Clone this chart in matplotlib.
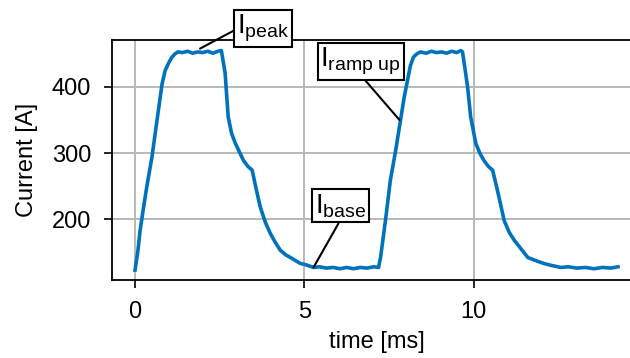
import matplotlib
matplotlib.use("Agg")
import matplotlib.pyplot as plt

plt.rcParams["font.family"] = ["Liberation Sans", "DejaVu Sans"]
plt.rcParams["mathtext.fontset"] = "custom"
plt.rcParams["mathtext.rm"] = "Liberation Sans"
plt.rcParams["mathtext.it"] = "Liberation Sans"

# measured current waveform, two pulses
time_ms = [0.0, 0.08, 0.15, 0.24, 0.35, 0.5, 0.65, 0.8, 0.89, 1.0, 1.09, 1.18, 1.27,
           1.4, 1.55, 1.7, 1.85, 2.0, 2.15, 2.3, 2.45, 2.55, 2.66, 2.75, 2.85, 2.96,
           3.08, 3.2, 3.33, 3.46, 3.58, 3.7, 3.85, 3.99, 4.14, 4.29, 4.45, 4.59, 4.75,
           4.88, 5.05, 5.27, 5.45, 5.65, 5.85, 6.05, 6.25, 6.45, 6.65, 6.85, 7.05,
           7.19, 7.25, 7.4, 7.54, 7.7, 7.84, 7.95, 8.05, 8.13, 8.22, 8.32, 8.43, 8.6,
           8.75, 8.9, 9.05, 9.2, 9.35, 9.5, 9.62, 9.67, 9.75, 9.82, 9.91, 10.06,
           10.18, 10.3, 10.43, 10.56, 10.7, 10.9, 11.05, 11.2, 11.4, 11.6, 11.85,
           12.07, 12.3, 12.57, 12.8, 13.05, 13.3, 13.55, 13.8, 14.05, 14.26]
current_a = [123, 150, 183, 214, 250, 294, 350, 405, 425, 437, 445, 450, 453,
             452, 454, 451, 453, 452, 454, 451, 454, 455, 421, 355, 330, 315,
             302, 289, 280, 274, 245, 218, 195, 179, 165, 153, 146, 142, 137,
             133, 131, 127, 128, 126, 127, 125, 127, 125, 127, 126, 128,
             127, 142, 200, 259, 305, 350, 385, 411, 432, 445, 450, 453, 451,
             454, 452, 453, 451, 454, 452, 455, 453, 425, 400, 355, 315,
             300, 289, 280, 274, 244, 198, 180, 168, 155, 142, 137,
             133, 130, 127, 128, 126, 127, 125, 127, 126, 128]

# annotation labels: (text, point on curve, text centre, line attach point on box)
labels = [r"$\mathregular{I_{peak}}$", r"$\mathregular{I_{ramp\ up}}$", r"$\mathregular{I_{base}}$"]
label_xy = [(1.92, 458), (7.81, 350), (5.27, 127)]
label_text_xy = [(3.79, 488), (6.66, 439), (6.07, 220)]
label_relpos = [(0.0, 0.5), (0.52, 0.0), (0.5, 0.0)]

fig = plt.figure(figsize=(6.3, 3.58), dpi=100)
ax = fig.add_axes([112 / 630, 78 / 358, 530 / 630, 240 / 358])

ax.plot(time_ms, current_a, color="#0072BD", lw=2.6, zorder=3)

ax.set_xlim(-0.68, 14.97)
ax.set_ylim(108, 471)
ax.set_xticks([0, 5, 10])
ax.set_yticks([200, 300, 400])
ax.grid(True, color="#b8b8b8", lw=1.4)
ax.set_axisbelow(True)
ax.tick_params(direction="out", length=6, width=1.2, labelsize=17, colors="k", pad=9)
for s in ax.spines.values():
    s.set_linewidth(1.3)
ax.spines["right"].set_visible(False)

ax.set_xlabel("time [ms]", fontsize=17, labelpad=6)
ax.set_ylabel("Current [A]", fontsize=17, labelpad=10)

for txt, xy, xyt, rp in zip(labels, label_xy, label_text_xy, label_relpos):
    ax.annotate(txt, xy=xy, xytext=xyt, ha="center", va="center", fontsize=20,
                annotation_clip=False, zorder=5,
                bbox=dict(boxstyle="square,pad=0.1", fc="white", ec="black", lw=1.5),
                arrowprops=dict(arrowstyle="-", color="black", lw=1.5,
                                shrinkA=0, shrinkB=0, relpos=rp))

fig.savefig("out.png", dpi=100)
